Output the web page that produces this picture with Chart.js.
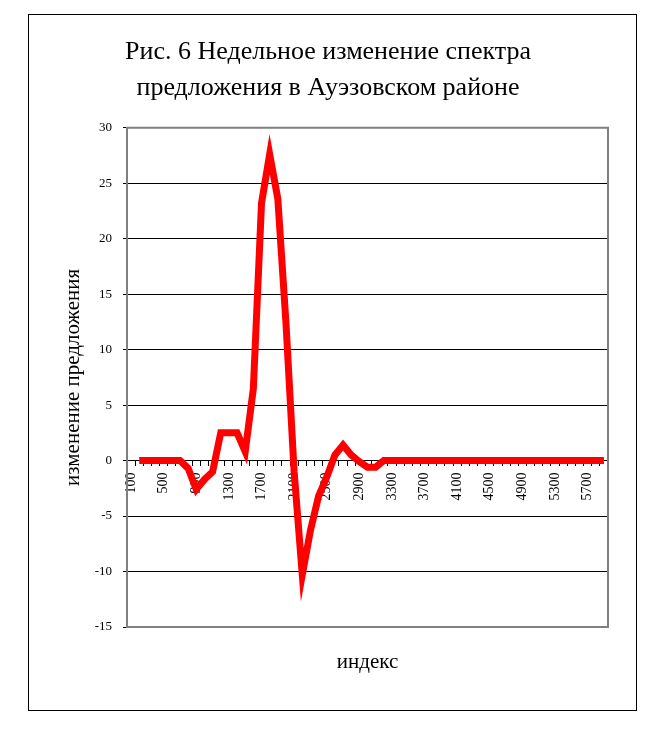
<!DOCTYPE html>
<html lang="ru">
<head>
<meta charset="utf-8">
<title>Рис. 6</title>
<script src="https://cdn.jsdelivr.net/npm/chart.js"></script>
<style>
  html, body { margin: 0; padding: 0; background: #fff; }
  #frame {
    position: absolute; left: 28px; top: 14px;
    width: 609px; height: 697px;
    border: 1px solid #000; box-sizing: border-box;
  }
</style>
</head>
<body>
<div id="frame"><canvas id="myChart"></canvas></div>
<script>
// categories (индекс)
const categories = [
  '100', '200', '300', '400', '500', '600', '700', '800', '900', '1000',
  '1100', '1200', '1300', '1400', '1500', '1600', '1700', '1800', '1900', '2000',
  '2100', '2200', '2300', '2400', '2500', '2600', '2700', '2800', '2900', '3000',
  '3100', '3200', '3300', '3400', '3500', '3600', '3700', '3800', '3900', '4000',
  '4100', '4200', '4300', '4400', '4500', '4600', '4700', '4800', '4900', '5000',
  '5100', '5200', '5300', '5400', '5500', '5600', '5700', '5800', '5900'
];

// изменение предложения
const supplyChange = [
  null, 0, 0, 0, 0, 0, 0, -0.7, -2.6, -1.7,
  -1.0, 2.5, 2.5, 2.5, 0.8, 6.5, 23.2, 27.6, 23.6, 12.4,
  -1.0, -10.3, -6.3, -3.2, -1.5, 0.5, 1.4, 0.5, -0.1, -0.6,
  -0.6, 0, 0, 0, 0, 0, 0, 0, 0, 0,
  0, 0, 0, 0, 0, 0, 0, 0, 0, 0,
  0, 0, 0, 0, 0, 0, 0, 0, 0
];

// labels printed under the axis
const xTickLabels = ['100', '500', '900', '1300', '1700', '2100', '2500', '2900',
  '3300', '3700', '4100', '4500', '4900', '5300', '5700'];
const yMin = -15, yMax = 30, yStep = 5;

Chart.defaults.font.family = "'Liberation Serif', 'Times New Roman', serif";
Chart.defaults.color = '#000';

// grey plot-area border like the spreadsheet original
const plotFrame = {
  id: 'plotFrame',
  beforeDatasetsDraw(chart) {
    const { ctx, chartArea: a } = chart;
    ctx.save();
    ctx.strokeStyle = '#808080';
    ctx.lineWidth = 2;
    ctx.strokeRect(a.left, a.top, a.right - a.left, a.bottom - a.top);
    ctx.restore();
  }
};

const ctx = document.getElementById('myChart');

new Chart(ctx, {
  type: 'line',
  data: {
    labels: categories,
    datasets: [{
      label: 'изменение предложения',
      data: supplyChange,
      borderColor: '#ff0000',
      borderWidth: 7,
      pointRadius: 0,
      tension: 0,
      fill: false
    }]
  },
  options: {
    responsive: true,
    maintainAspectRatio: false,
    animation: false,
    layout: { padding: { left: 19, right: 28, top: 0, bottom: 20 } },
    plugins: {
      legend: { display: false },
      tooltip: { enabled: false },
      title: {
        display: true,
        text: ['Рис. 6 Недельное изменение спектра', 'предложения в Ауэзовском районе'],
        color: '#000',
        font: { size: 26, weight: 'normal', lineHeight: 1.38 },
        padding: { top: 19, bottom: 22 }
      }
    },
    scales: {
      x: {
        type: 'category',
        position: { y: 0 },
        offset: true,
        grid: { offset: true, drawOnChartArea: false, drawTicks: true, tickLength: 5, color: '#000' },
        border: { display: true, color: '#000', width: 1 },
        ticks: {
          autoSkip: false,
          minRotation: 90,
          maxRotation: 90,
          padding: 7,
          font: { size: 14 },
          color: '#000',
          callback: function (v) {
            const l = this.getLabelForValue(v);
            return xTickLabels.includes(l) ? l : '';
          }
        },
        afterFit: s => { s.height = 0; }
      },
      x2: {
        type: 'linear',
        position: 'bottom',
        min: 0, max: 1,
        grid: { display: false },
        border: { display: false },
        ticks: { display: false },
        title: {
          display: true,
          text: 'индекс',
          color: '#000',
          font: { size: 21 },
          padding: { top: 14.4, bottom: 15.4 }
        }
      },
      y: {
        min: yMin,
        max: yMax,
        ticks: { stepSize: yStep, padding: 11, font: { size: 13 }, color: '#000' },
        grid: { color: '#000', lineWidth: 1, tickLength: 4 },
        border: { color: '#808080', width: 2 },
        title: {
          display: true,
          text: 'изменение предложения',
          color: '#000',
          font: { size: 21 },
          padding: { top: 12.4, bottom: 0 }
        },
        afterFit: s => { s.width = 79; }
      }
    }
  },
  plugins: [plotFrame]
});
</script>
</body>
</html>
